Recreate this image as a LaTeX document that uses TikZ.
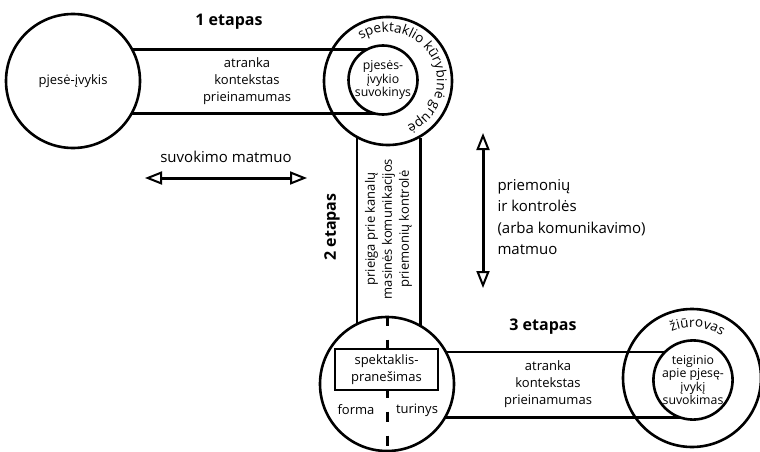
\documentclass[tikz,border=0pt]{standalone}
\usepackage{fontspec}
\setmainfont{Open Sans}
\usetikzlibrary{arrows.meta, positioning, calc, backgrounds, decorations.text}

\newcommand\ringfont{\fontsize{12.3}{13.5}\selectfont}
\newcommand\arcfont{\fontsize{13.5}{15}\selectfont}

\tikzset{
  font=\fontsize{13}{17}\selectfont,
  >={Triangle[open, length=17pt, width=13pt, line width=2pt]},
  %
  ring/.style={circle, draw, line width=2.6pt, inner sep=0pt, align=center},
  ringw/.style={ring, fill=white},
  band/.style={inner sep=0pt, align=center},
  rail/.style={line width=2.6pt},
  %
  stage/.style={font=\fontsize{16}{19}\selectfont\bfseries},
  dimlbl/.style={font=\fontsize{15}{21.5}\selectfont, align=left},
  dim/.style={line width=3pt, <->},
  cut/.style={line width=3pt, dash pattern=on 10pt off 14pt},
  msgbox/.style={draw, line width=2pt, fill=white, minimum width=103pt,
                 minimum height=41pt, align=center, inner sep=2pt},
}

\begin{document}
\begin{tikzpicture}[x=1pt, y=1pt]
  \useasboundingbox (0,0) rectangle (760,451);

  % circles
  \node[ringw, minimum size=134pt] (play) at (73,370) {pjesė-įvykis};
  \node[ring, minimum size=128pt] (crew) at (388,370) {};
  \node[ringw, minimum size=69pt, font=\ringfont] (crewin) at (383,371) {pjesės-\\įvykio\\suvokinys};
  \node[ringw, minimum size=134pt] (show) at (387,67) {};
  \node[ring, minimum size=138pt] (aud) at (692,73) {};
  \node[ringw, minimum size=73pt, font=\ringfont] (audin) at (693,71) {teiginio\\apie pjesę-\\įvykį\\suvokimas};

  % bands
  \node[band, minimum height=63pt] (link1) at (247,369.5) {atranka\\kontekstas\\prieinamumas};
  \node[band, rotate=90, minimum width=172pt, minimum height=63pt] (link2) at (388.5,222)
    {prieiga prie kanalų\\masinės komunikacijos\\priemonių kontrolė};
  \node[band, minimum height=65pt] (link3) at (548,66.5) {atranka\\kontekstas\\prieinamumas};

  \begin{scope}[on background layer]
    \draw[rail] (play.center |- link1.north) -- (crewin.center |- link1.north);
    \draw[rail] (play.center |- link1.south) -- (crewin.center |- link1.south);
    \draw[rail] (link2.north |- show.center) -- (link2.north |- crew.-119.5);
    \draw[rail] (link2.south |- show.center) -- (link2.south |- crew.-60.5);
    \draw[rail] (show.center |- link3.north) -- (audin.center |- link3.north);
    \draw[rail] (show.center |- link3.south) -- (audin.center |- link3.south);
  \end{scope}

  % message inside the show circle
  \draw[cut] (show.north) -- (show.south);
  \node[msgbox] (msg) at (386.5,81.5) {spektaklis-\\pranešimas};
  \node (form) at (356,41) {forma};
  \node (content) at (417,41) {turinys};

  % text round the rings
  \path[decorate, decoration={text along path, text align=center,
      text={|\arcfont|spektaklio kūrybinė grupė}}]
    ($(crew.center)+(126:49)$) arc[start angle=126, end angle=-70, radius=49];
  \path[decorate, decoration={text along path, text align=center,
      text={|\arcfont|žiūrovas}}]
    ($(aud.center)+(122:51)$) arc[start angle=122, end angle=46, radius=51];

  % stages
  \node[stage] (st1) at (229,429) {1 etapas};
  \node[stage, rotate=90] (st2) at (332,224) {2 etapas};
  \node[stage] (st3) at (543,124) {3 etapas};

  % dimensions
  \coordinate (pl) at (145,273);
  \coordinate (pr) at (307,273);
  \draw[dim] (pl) -- (pr);
  \node[dimlbl] (plbl) at (226,294) {suvokimo matmuo};

  \coordinate (ct) at (483,318);
  \coordinate (cb) at (483,163);
  \draw[dim] (ct) -- (cb);
  \node[dimlbl, anchor=west] (clbl) at (494,234)
    {priemonių\\ir kontrolės\\(arba komunikavimo)\\matmuo};

\end{tikzpicture}
\end{document}
